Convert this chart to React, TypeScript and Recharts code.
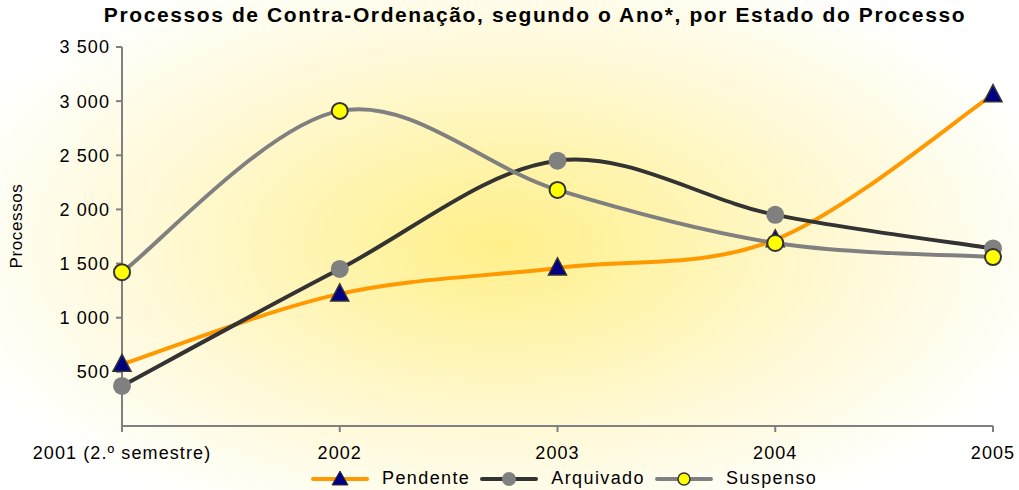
import { LineChart, Line, XAxis, YAxis } from 'recharts';

const anos = ['2001 (2.º semestre)', '2002', '2003', '2004', '2005'];
const pendente = [570, 1220, 1460, 1720, 3060];
const arquivado = [370, 1450, 2450, 1950, 1640];
const suspenso = [1420, 2910, 2180, 1690, 1560];
const yTicks = [500, 1000, 1500, 2000, 2500, 3000, 3500];

const data = anos.map((ano, i) => ({
  ano,
  pendente: pendente[i],
  arquivado: arquivado[i],
  suspenso: suspenso[i],
}));

const fmt = (v: number) => {
  const s = String(v);
  return s.length > 3 ? s.slice(0, s.length - 3) + ' ' + s.slice(-3) : s;
};

// Excel-style smoothed line (Catmull-Rom as cubic Bezier)
const smooth = (context: any) => {
  let pts: number[][] = [];
  return {
    areaStart() {},
    areaEnd() {},
    lineStart() {
      pts = [];
    },
    point(x: number, y: number) {
      pts.push([+x, +y]);
    },
    lineEnd() {
      if (!pts.length) return;
      context.moveTo(pts[0][0], pts[0][1]);
      for (let i = 0; i < pts.length - 1; i++) {
        const p0 = pts[i - 1] || pts[i];
        const p1 = pts[i];
        const p2 = pts[i + 1];
        const p3 = pts[i + 2] || p2;
        context.bezierCurveTo(
          p1[0] + (p2[0] - p0[0]) / 6,
          p1[1] + (p2[1] - p0[1]) / 6,
          p2[0] - (p3[0] - p1[0]) / 6,
          p2[1] - (p3[1] - p1[1]) / 6,
          p2[0],
          p2[1]
        );
      }
    },
  };
};

const Triangle = (props: any) => {
  const { cx, cy } = props;
  if (cx == null || cy == null) return <g />;
  return (
    <polygon
      points={`${cx},${cy - 10} ${cx - 9},${cy + 7} ${cx + 9},${cy + 7}`}
      fill="#000080"
      stroke="#333333"
      strokeWidth={1.5}
    />
  );
};

const legendItems = [
  { label: 'Pendente', line: '#FF9900', marker: 'tri' },
  { label: 'Arquivado', line: '#333333', marker: 'grey' },
  { label: 'Suspenso', line: '#808080', marker: 'yellow' },
];

const tickStyle = { fill: '#000', fontSize: 18, letterSpacing: 1.1 };

export default function App() {
  return (
    <div
      style={{
        position: 'absolute',
        left: 0,
        top: 0,
        width: 1019,
        height: 490,
        fontFamily: '"Liberation Sans", Arial, sans-serif',
        background:
          'radial-gradient(ellipse 580px 310px at 500px 245px, #FFF08A 0%, #FFF4AE 30%, #FFF9D6 60%, #FFFDF0 85%, #FFFFFF 100%)',
      }}
    >
      <div
        style={{
          position: 'absolute',
          top: 3,
          left: 0,
          width: 1070,
          textAlign: 'center',
          fontSize: 21,
          fontWeight: 'bold',
          letterSpacing: 1.6,
        }}
      >
        Processos de Contra-Ordenação, segundo o Ano*, por Estado do Processo
      </div>
      <div
        style={{
          position: 'absolute',
          left: 17,
          top: 226,
          transform: 'translate(-50%, -50%) rotate(-90deg)',
          fontSize: 17,
          letterSpacing: 0.6,
          whiteSpace: 'nowrap',
          zIndex: 2,
        }}
      >
        Processos
      </div>
      <LineChart
        width={1019}
        height={490}
        data={data}
        margin={{ top: 47, right: 26, bottom: 0, left: 0 }}
        style={{ position: 'absolute', left: 0, top: 0 }}
      >
        <XAxis
          dataKey="ano"
          axisLine={{ stroke: '#808080', strokeWidth: 2 }}
          tickLine={{ stroke: '#808080', strokeWidth: 2 }}
          tickSize={6}
          tick={tickStyle}
          tickMargin={14}
          interval={0}
          height={64}
        />
        <YAxis
          width={122}
          domain={[0, 3500]}
          ticks={yTicks}
          tickFormatter={fmt}
          axisLine={{ stroke: '#808080', strokeWidth: 2 }}
          tickLine={{ stroke: '#808080', strokeWidth: 2 }}
          tickSize={6}
          tick={tickStyle}
          tickMargin={6}
        />
        <Line type={smooth as any} dataKey="pendente" stroke="#FF9900" strokeWidth={4} dot={<Triangle />} isAnimationActive={false} />
        <Line
          type={smooth as any}
          dataKey="arquivado"
          stroke="#333333"
          strokeWidth={4}
          dot={{ r: 9, fill: '#808080', stroke: '#808080', strokeWidth: 0 }}
          isAnimationActive={false}
        />
        <Line
          type={smooth as any}
          dataKey="suspenso"
          stroke="#808080"
          strokeWidth={4}
          dot={{ r: 8, fill: '#FFFF00', stroke: '#333333', strokeWidth: 2 }}
          isAnimationActive={false}
        />
      </LineChart>
      <div
        style={{
          position: 'absolute',
          top: 468,
          left: 311,
          display: 'flex',
          alignItems: 'center',
          fontSize: 18,
          letterSpacing: 1.4,
          color: '#000',
          whiteSpace: 'nowrap',
        }}
      >
        {legendItems.map((it) => (
          <div key={it.label} style={{ display: 'flex', alignItems: 'center', marginRight: 10 }}>
            <svg width={58} height={18} style={{ display: 'block' }}>
              <line x1={2} y1={9} x2={56} y2={9} stroke={it.line} strokeWidth={4} strokeLinecap="round" />
              {it.marker === 'tri' && <polygon points="29,1 21,15 37,15" fill="#000080" stroke="#333" strokeWidth={1} />}
              {it.marker === 'grey' && <circle cx={29} cy={9} r={7} fill="#808080" />}
              {it.marker === 'yellow' && <circle cx={29} cy={9} r={6} fill="#FFFF00" stroke="#333" strokeWidth={1.5} />}
            </svg>
            <span style={{ marginLeft: 13 }}>{it.label}</span>
          </div>
        ))}
      </div>
    </div>
  );
}
